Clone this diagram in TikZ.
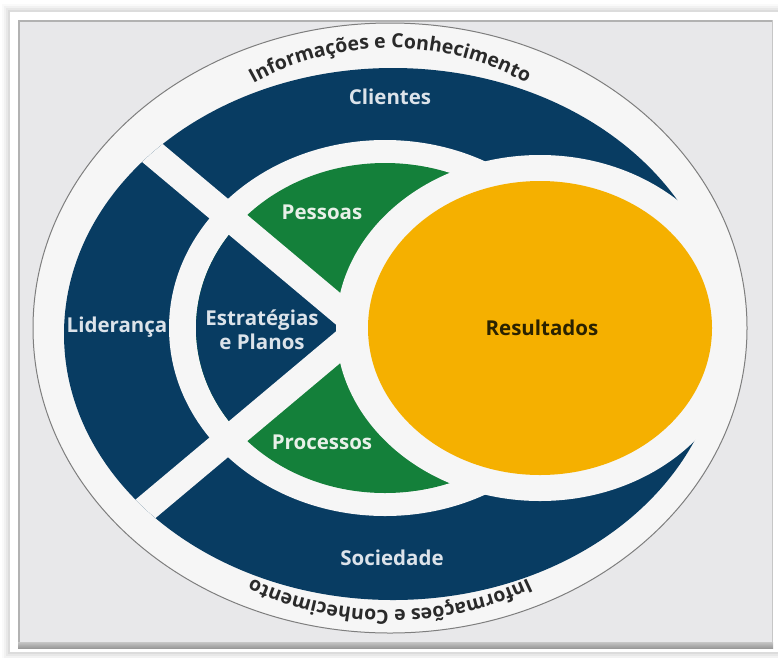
\documentclass[tikz,border=0pt]{standalone}
\usepackage{fontspec}
\setmainfont{Open Sans}
\usetikzlibrary{decorations.text}

\definecolor{navy}{HTML}{083C62}
\definecolor{leaf}{HTML}{14803A}
\definecolor{gold}{HTML}{F5B000}
\definecolor{paper}{HTML}{F6F6F6}
\definecolor{panel}{HTML}{E8E8EA}
\definecolor{onnavy}{HTML}{DCE3EA}
\definecolor{onleaf}{HTML}{E8F0E8}
\definecolor{ringtext}{HTML}{2A2A2A}
\definecolor{darklabel}{HTML}{2A2200}

\newcommand\ringfont{\fontsize{19.5}{22}\selectfont\bfseries}

\begin{document}
\begin{tikzpicture}[x=1pt,y=-1pt,
  lbl/.style={font=\fontsize{20.5}{24}\selectfont\bfseries, text=onnavy,
              align=center, inner sep=0pt},
  greenlbl/.style={lbl, text=onleaf},
  goldlbl/.style={lbl, text=darklabel},
  ringlabel/.style={decorate, decoration={text along path, text align=center,
              text color=ringtext, text={|\ringfont|#1}}}]
\useasboundingbox (0,0) rectangle (778,657);
\fill[white] (0,0) rectangle (778,657);

% soft shadow around the frame
\foreach \d/\o in {8/0.02,6/0.03,4/0.04,2/0.05}
  \fill[black,opacity=\o] (10-\d,12-\d) rectangle (778,652+\d);

% frame and panel
\fill[white] (10,12) rectangle (778,652);
\fill[panel] (18,20) rectangle (773,647);
\draw[gray!60, line width=1.5pt] (18.75,647) -- (18.75,20.75) -- (773,20.75);
\draw[gray!45, line width=1pt] (772.5,20) -- (772.5,647);
\shade[top color=gray!45, bottom color=gray!80] (18,642) rectangle (773,648);

% outer white disc
\fill[paper] (390,328) ellipse [x radius=357pt, y radius=305pt];

% outer blue ring
\fill[navy] (393,334) ellipse [x radius=329pt, y radius=266pt];
\fill[paper] (385,328) ellipse [x radius=216pt, y radius=188pt];

% inner disc: green wedges with the blue strategy wedge
\coordinate (hub) at (361,328);
\coordinate (ul) at (54.6,70.9);
\coordinate (ll) at (54.6,585.1);
\begin{scope}
  \clip (385,328) ellipse [x radius=189pt, y radius=165pt];
  \fill[leaf] (385,328) ellipse [x radius=189pt, y radius=165pt];
  \fill[navy] (hub) -- (ul) -- (ll) -- cycle;
\end{scope}

% white dividing bars
\begin{scope}
  \clip (393,334) ellipse [x radius=329pt, y radius=266pt];
  \draw[paper, line width=27pt] (ul) -- (hub) -- (ll);
\end{scope}

% results
\fill[paper] (540,328) ellipse [x radius=204pt, y radius=173pt];
\fill[gold] (540,328) ellipse [x radius=172pt, y radius=147pt];

\draw[gray!55!black!70, line width=1pt] (390,328) ellipse [x radius=357pt, y radius=305pt];

% labels
\node[lbl] (clientes) at (390,97) {Clientes};
\node[lbl] (sociedade) at (392,558) {Sociedade};
\node[lbl] (lideranca) at (117,327) {Liderança};
\node[lbl] (estrategias) at (262,330) {Estratégias\\e Planos};
\node[greenlbl] (pessoas) at (322,212) {Pessoas};
\node[greenlbl] (processos) at (322,442) {Processos};
\node[goldlbl] (resultados) at (542,328) {Resultados};

% ring captions
\path[ringlabel={Informações e Conhecimento}]
  (390,330) ++(125:282pt)
  arc[start angle=125, end angle=55, radius=282pt];
\path[ringlabel={Informações e Conhecimento}]
  (390,328) ++(-60:302pt and 282pt)
  arc[start angle=-60, end angle=-120, x radius=302pt, y radius=282pt];
\end{tikzpicture}
\end{document}
